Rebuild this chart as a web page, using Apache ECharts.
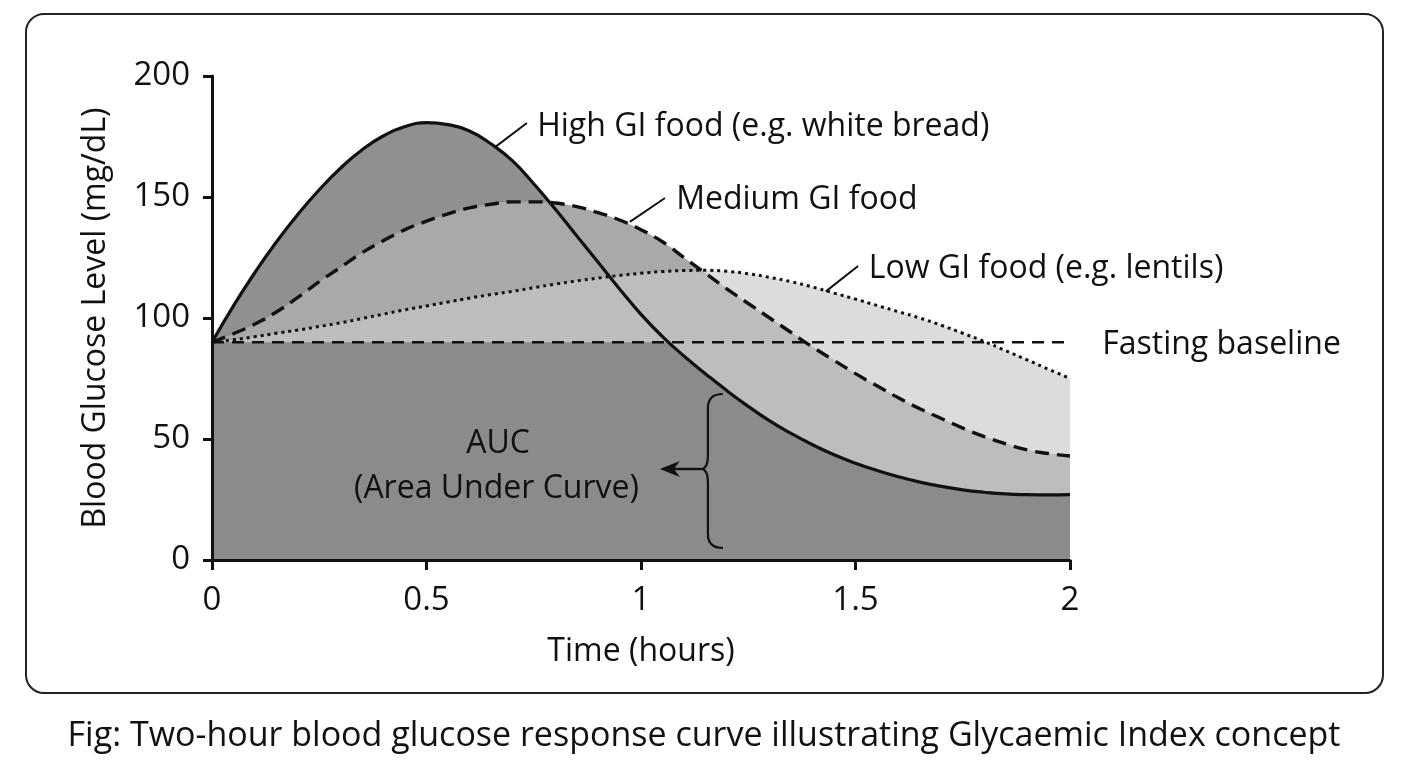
<!DOCTYPE html>
<html>
<head>
<meta charset="utf-8">
<script src="https://cdn.jsdelivr.net/npm/echarts@6/dist/echarts.min.js"></script>
<style>
html,body{margin:0;padding:0;background:#ffffff;}
#chart{width:1408px;height:768px;}
</style>
</head>
<body>
<div id="chart"></div>
<script>
// ---------- data ----------
const times    = [0, 0.05, 0.1, 0.15, 0.2, 0.25, 0.3, 0.35, 0.4, 0.45, 0.5, 0.55, 0.6, 0.65, 0.7, 0.75, 0.8, 0.85, 0.9, 0.95,
                  1.0, 1.05, 1.1, 1.15, 1.2, 1.25, 1.3, 1.35, 1.4, 1.45, 1.5, 1.55, 1.6, 1.65, 1.7, 1.75, 1.8, 1.85, 1.9, 1.95, 2.0];
const highGI   = [90, 105, 118.8, 131.4, 142.8, 153, 162, 169.5, 175.3, 179.1, 180.7, 179.9, 177.3, 172, 165, 155.5, 145, 134, 123, 112,
                  101.5, 92.3, 84.3, 77, 70, 63.5, 57.5, 52.3, 47.6, 43.5, 40, 37, 34.4, 32.2, 30.4, 29, 28, 27.3, 27, 26.9, 27];
const mediumGI = [90, 93.5, 97.5, 102.5, 108.5, 115, 121, 127, 132, 136.5, 140, 143, 145.5, 147, 148, 148, 147.5, 146, 143.5, 140.5,
                  136.5, 131.5, 125, 118.5, 112, 106, 100, 94, 88, 82.5, 77, 72, 67, 62.5, 58.5, 54.5, 51, 48, 45.5, 44, 43];
const lowGI    = [90, 91, 92.3, 93.7, 95, 96.5, 98, 99.8, 101.6, 103.4, 105, 106.6, 108.2, 109.7, 111, 112.5, 114, 115.3, 116.5, 117.6,
                  118.5, 119.2, 119.6, 119.7, 119.3, 118.3, 116.8, 115, 112.8, 110.3, 107.8, 105.2, 102.6, 100, 97, 93.7, 90.3, 86.5, 82.7, 78.8, 75];
const fastingBaseline = 90;
const xTickLabels = ['0', '0.5', '1', '1.5', '2'];
const yTickLabels = ['0', '50', '100', '150', '200'];
const curveLabels = ['High GI food (e.g. white bread)', 'Medium GI food', 'Low GI food (e.g. lentils)', 'Fasting baseline'];
const aucLabels = ['AUC', '(Area Under Curve)'];
const captionText = 'Fig: Two-hour blood glucose response curve illustrating Glycaemic Index concept';
const xAxisName = 'Time (hours)';
const yAxisName = 'Blood Glucose Level (mg/dL)';

// ---------- derived ----------
const FONT = "'Open Sans', 'Noto Sans', sans-serif";
const SMOOTH = 0.5;
const pts = arr => times.map((t, i) => [t, arr[i]]);
const minLowMed = lowGI.map((v, i) => Math.min(v, mediumGI[i]));
const minHighBase = highGI.map(v => Math.min(v, fastingBaseline));

function fill(name, arr, color) {
  return {
    type: 'line', name, data: pts(arr), smooth: SMOOTH, symbol: 'none', silent: true, z: 1,
    lineStyle: { width: 0, opacity: 0 },
    areaStyle: { color, opacity: 1 }
  };
}
function curve(name, arr, width, dash, color) {
  return {
    type: 'line', name, data: pts(arr), smooth: SMOOTH, symbol: 'none', silent: true, z: 3,
    lineStyle: { width, type: dash, color, cap: 'butt' }
  };
}

const chart = echarts.init(document.getElementById('chart'), null, { renderer: 'canvas' });

const option = {
  animation: false,
  backgroundColor: '#ffffff',
  textStyle: { fontFamily: FONT },
  title: {
    text: captionText, left: 'center', top: 714,
    textStyle: { fontFamily: FONT, fontSize: 34, fontWeight: 'normal', color: '#111' }
  },
  graphic: [{
    type: 'rect', z: -10, silent: true,
    shape: { x: 26, y: 14, width: 1357, height: 679, r: 18 },
    style: { fill: 'none', stroke: '#222', lineWidth: 2 }
  }],
  grid: { left: 212, right: 338, top: 76, bottom: 208, containLabel: false },
  xAxis: {
    type: 'value', min: 0, max: 2, interval: 0.5, z: 10,
    name: xAxisName, nameLocation: 'middle', nameGap: 76,
    nameTextStyle: { fontFamily: FONT, fontSize: 32, color: '#111' },
    axisLine: { show: true, onZero: false, lineStyle: { color: '#111', width: 3 } },
    axisTick: { show: true, length: 10, lineStyle: { color: '#111', width: 3 } },
    axisLabel: { fontFamily: FONT, fontSize: 33, color: '#111', margin: 24,
      formatter: v => xTickLabels[Math.round(v / 0.5)] },
    splitLine: { show: false }
  },
  yAxis: {
    type: 'value', min: 0, max: 200, interval: 50, z: 10,
    name: yAxisName, nameLocation: 'middle', nameGap: 100,
    nameTextStyle: { fontFamily: FONT, fontSize: 32, color: '#111' },
    axisLine: { show: true, onZero: false, lineStyle: { color: '#111', width: 3 } },
    axisTick: { show: true, length: 9, lineStyle: { color: '#111', width: 3 } },
    axisLabel: { fontFamily: FONT, fontSize: 33, color: '#111', margin: 22,
      formatter: v => yTickLabels[Math.round(v / 50)] },
    splitLine: { show: false }
  },
  series: [
    fill('highFill', highGI, '#909090'),
    fill('lowFill', lowGI, '#dcdcdc'),
    fill('mediumFill', mediumGI, '#a9a9a9'),
    fill('underBothFill', minLowMed, '#bdbdbd'),
    fill('belowBaselineFill', minHighBase, '#8b8b8b'),
    curve('Low GI food', lowGI, 3, [3, 4], '#111'),
    curve('Medium GI food', mediumGI, 3.4, [14, 8], '#111'),
    curve('High GI food', highGI, 3.2, 'solid', '#111'),
    {
      type: 'line', name: 'Fasting baseline', clip: false, silent: true, z: 3, symbol: 'none',
      data: [[0, fastingBaseline], [2.045, fastingBaseline]],
      lineStyle: { width: 2.6, type: [12, 8], color: '#111' }
    },
    {
      type: 'custom', name: 'annotations', clip: false, silent: true, z: 5,
      data: [[0, 0]],
      renderItem: function (params, api) {
        const P = (x, y) => api.coord([x, y]);
        const kids = [];
        const txt = (s, p, align) => kids.push({
          type: 'text', style: { text: s, x: p[0], y: p[1], font: '32px ' + FONT,
            fill: '#111', align: align || 'left', verticalAlign: 'middle' }
        });
        const seg = (a, b, w) => kids.push({
          type: 'line', shape: { x1: a[0], y1: a[1], x2: b[0], y2: b[1] },
          style: { stroke: '#111', lineWidth: w || 2 }
        });
        // curve labels with leader lines
        seg(P(0.659, 170.5), P(0.734, 180.6));
        txt(curveLabels[0], P(0.758, 178.8));
        seg(P(0.974, 139.7), P(1.056, 149.6));
        txt(curveLabels[1], P(1.082, 148.8));
        seg(P(1.431, 111), P(1.506, 121.5));
        txt(curveLabels[2], P(1.531, 120.3));
        txt(curveLabels[3], P(2.075, fastingBaseline - 1.2));
        // AUC text
        txt(aucLabels[0], P(0.667, 47.8), 'center');
        txt(aucLabels[1], P(0.663, 29.2), 'center');
        // brace
        const top = P(1.156, 68.6), mid = P(1.156, 37.6), bot = P(1.156, 5);
        const xv = top[0], r = 14, xr = xv + 15, xc = xv - 7;
        const d = 'M' + xr + ',' + top[1] +
          ' Q' + xv + ',' + top[1] + ' ' + xv + ',' + (top[1] + r) +
          ' L' + xv + ',' + (mid[1] - r) +
          ' Q' + xv + ',' + mid[1] + ' ' + xc + ',' + mid[1] +
          ' Q' + xv + ',' + mid[1] + ' ' + xv + ',' + (mid[1] + r) +
          ' L' + xv + ',' + (bot[1] - r) +
          ' Q' + xv + ',' + bot[1] + ' ' + xr + ',' + bot[1];
        kids.push({ type: 'path', shape: { pathData: d },
          style: { fill: 'none', stroke: '#111', lineWidth: 2.2 } });
        // arrow
        const tip = P(1.044, 37.6);
        seg([xc, mid[1]], [tip[0] + 12, mid[1]], 2.4);
        kids.push({ type: 'polygon', shape: { points: [
            [tip[0], mid[1]], [tip[0] + 20, mid[1] - 8], [tip[0] + 14, mid[1]], [tip[0] + 20, mid[1] + 8]] },
          style: { fill: '#111' } });
        return { type: 'group', children: kids };
      }
    }
  ]
};
chart.setOption(option);
</script>
</body>
</html>
